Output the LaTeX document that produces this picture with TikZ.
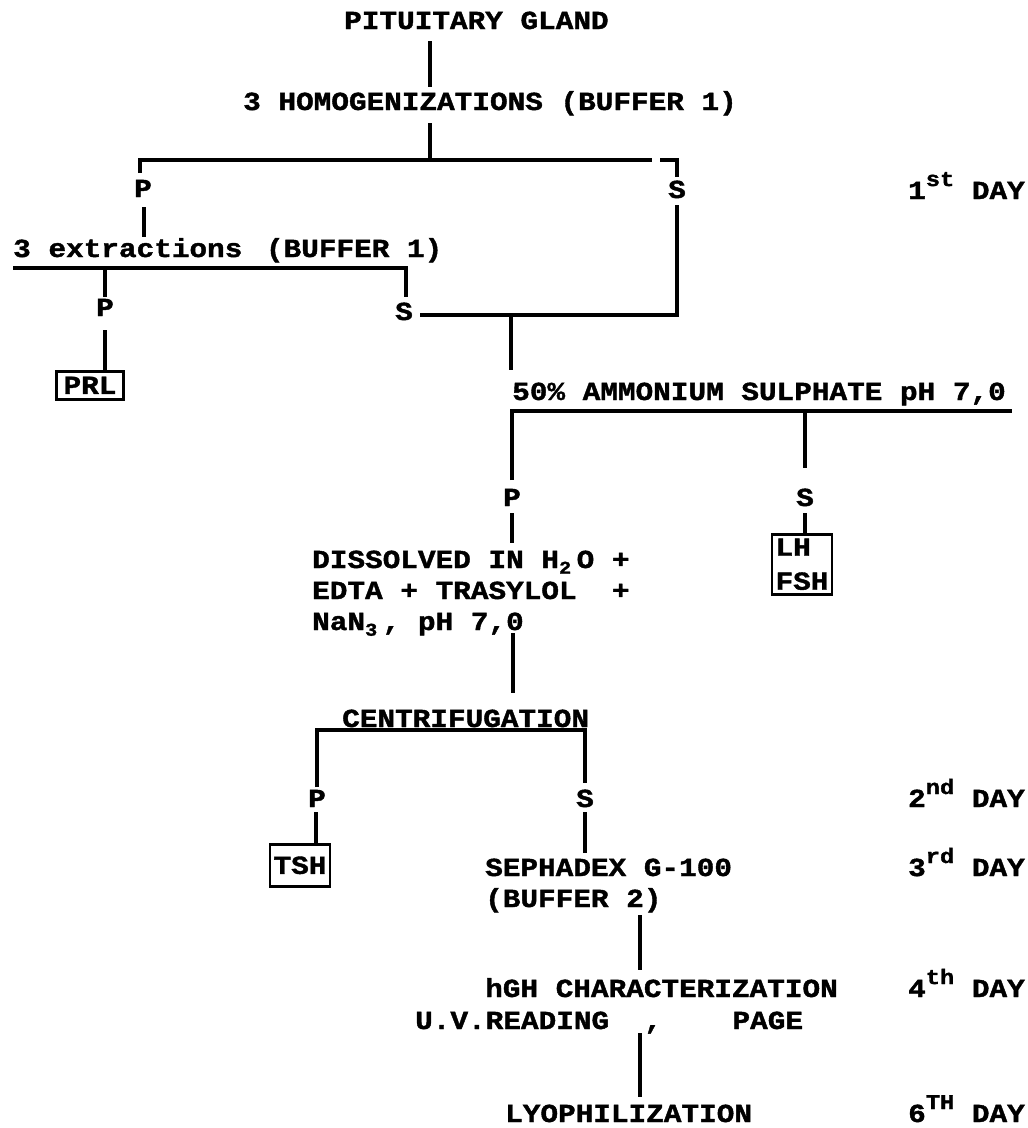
\documentclass[tikz,border=0pt]{standalone}
\usepackage{fontspec}
\newfontfamily\tw[FakeStretch=1.13, BoldFeatures={FakeBold=1.5}]{Liberation Mono}
\newcommand\sps[1]{\raisebox{0.5em}{\fontsize{21}{21}\selectfont #1}}
\newcommand\sbs[1]{\rlap{\raisebox{-0.22em}{\fontsize{18}{18}\selectfont #1}}\phantom{0}}
\tikzset{
  lbl/.style={inner sep=0pt, font=\tw\bfseries\fontsize{26}{34}\selectfont},
  conn/.style={line width=3.2pt},
  boxed/.style={lbl, draw, line width=2.6pt, inner sep=2pt},
}
\begin{document}
\begin{tikzpicture}[x=1pt,y=-1pt]
\useasboundingbox (0,0) rectangle (1028,1128);
% texts
\node[lbl, anchor=base west] (pit) at (344,29) {PITUITARY GLAND};
\node[lbl, anchor=base west] (hom) at (243,110) {3 HOMOGENIZATIONS (BUFFER 1)};
\node[lbl, anchor=base] (p1) at (143,197) {P};
\node[lbl, anchor=base] (s1) at (677,198) {S};
\node[lbl, anchor=base east] (d1) at (1025,199) {1\sps{st} DAY};
\node[lbl, anchor=base west] (ext) at (13,257) {3 extractions\hspace{6pt} (BUFFER 1)};
\node[lbl, anchor=base] (p2) at (105,316) {P};
\node[lbl, anchor=base] (s2) at (404,320) {S};
\node[boxed, anchor=north, minimum width=67pt, minimum height=28pt] (prl) at (90,370) {PRL};
\node[lbl, anchor=base west] (amm) at (512,400) {50\% AMMONIUM SULPHATE pH 7,0};
\node[lbl, anchor=base] (p3) at (512,506) {P};
\node[lbl, anchor=base] (s3) at (805,506) {S};
\node[boxed, anchor=north, align=left, minimum width=60pt, minimum height=60pt, inner sep=1pt] (lh) at (802,533) {LH\\FSH};
\node[lbl, anchor=base west, align=left] (dis) at (312,568) {DISSOLVED IN H\sbs{2}O +};
\node[lbl, anchor=base west] (edta) at (312,599) {EDTA + TRASYLOL ~+};
\node[lbl, anchor=base west] (nan) at (312,630) {NaN\sbs{3}, pH 7,0};
\node[lbl, anchor=base west] (cen) at (342,727) {CENTRIFUGATION};
\node[lbl, anchor=base] (p4) at (317,807) {P};
\node[lbl, anchor=base] (s4) at (585,807) {S};
\node[lbl, anchor=base east] (d2) at (1025,807) {2\sps{nd} DAY};
\node[boxed, anchor=north, minimum width=60pt, minimum height=42pt] (tsh) at (300,843) {TSH};
\node[lbl, anchor=base west] (sep) at (485,876) {SEPHADEX G-100};
\node[lbl, anchor=base west] (buf) at (485,907) {(BUFFER 2)};
\node[lbl, anchor=base east] (d3) at (1025,876) {3\sps{rd} DAY};
\node[lbl, anchor=base west] (hgh) at (485,997) {hGH CHARACTERIZATION};
\node[lbl, anchor=base east] (d4) at (1025,997) {4\sps{th} DAY};
\node[lbl, anchor=base west] (uv) at (415,1029) {U.V.READING ~, ~ ~PAGE};
\node[lbl, anchor=base west] (lyo) at (505,1122) {LYOPHILIZATION};
\node[lbl, anchor=base east] (d6) at (1025,1122) {6\sps{TH} DAY};
% junction coordinates
\coordinate (a1) at (430,41);  \coordinate (a2) at (430,87);
\coordinate (b1) at (430,123); \coordinate (b2) at (430,160);
\coordinate (bl) at (140,160); \coordinate (br) at (652,160);
\coordinate (blt) at (140,173);
\coordinate (c1) at (660,160); \coordinate (c2) at (677,160); \coordinate (c3) at (677,177);
\coordinate (pa) at (144,207); \coordinate (pb) at (144,237);
\coordinate (sa) at (677,205); \coordinate (sb) at (677,315); \coordinate (sc) at (420,315);
\coordinate (ua) at (13,268); \coordinate (ub) at (406,268); \coordinate (uc) at (406,297);
\coordinate (pt1) at (105,268); \coordinate (pt2) at (105,297);
\coordinate (pd) at (105,330);
\coordinate (m1) at (511,315); \coordinate (m2) at (511,370);
\coordinate (q1) at (512,411); \coordinate (q2) at (1012,411); \coordinate (q3) at (512,480);
\coordinate (q4) at (805,411); \coordinate (q5) at (805,468);
\coordinate (r1) at (512,513); \coordinate (r2) at (512,543);
\coordinate (r3) at (805,513);
\coordinate (n1) at (513,633); \coordinate (n2) at (513,693);
\coordinate (k1) at (317,730); \coordinate (k2) at (585,730);
\coordinate (k3) at (317,787); \coordinate (k4) at (585,783);
\coordinate (t1) at (316,812); \coordinate (u1) at (585,812); \coordinate (u2) at (585,853);
\coordinate (g1) at (640,915); \coordinate (g2) at (640,970);
\coordinate (h1) at (640,1033); \coordinate (h2) at (640,1097);
% connectors
\draw[conn] (a1) -- (a2);
\draw[conn] (b1) -- (b2);
\draw[conn] (blt) -- (bl) -- (br);
\draw[conn] (c1) -- (c2) -- (c3);
\draw[conn] (pa) -- (pb);
\draw[conn] (sa) -- (sb) -- (sc);
\draw[conn] (ua) -- (ub) -- (uc);
\draw[conn] (pt1) -- (pt2);
\draw[conn] (pd) -- (prl.north -| pd);
\draw[conn] (m1) -- (m2);
\draw[conn] (q3) -- (q1) -- (q2);
\draw[conn] (q4) -- (q5);
\draw[conn] (r1) -- (r2);
\draw[conn] (r3) -- (lh.north -| r3);
\draw[conn] (n1) -- (n2);
\draw[conn] (k3) -- (k1) -- (k2) -- (k4);
\draw[conn] (t1) -- (tsh.north -| t1);
\draw[conn] (u1) -- (u2);
\draw[conn] (g1) -- (g2);
\draw[conn] (h1) -- (h2);
\end{tikzpicture}
\end{document}
